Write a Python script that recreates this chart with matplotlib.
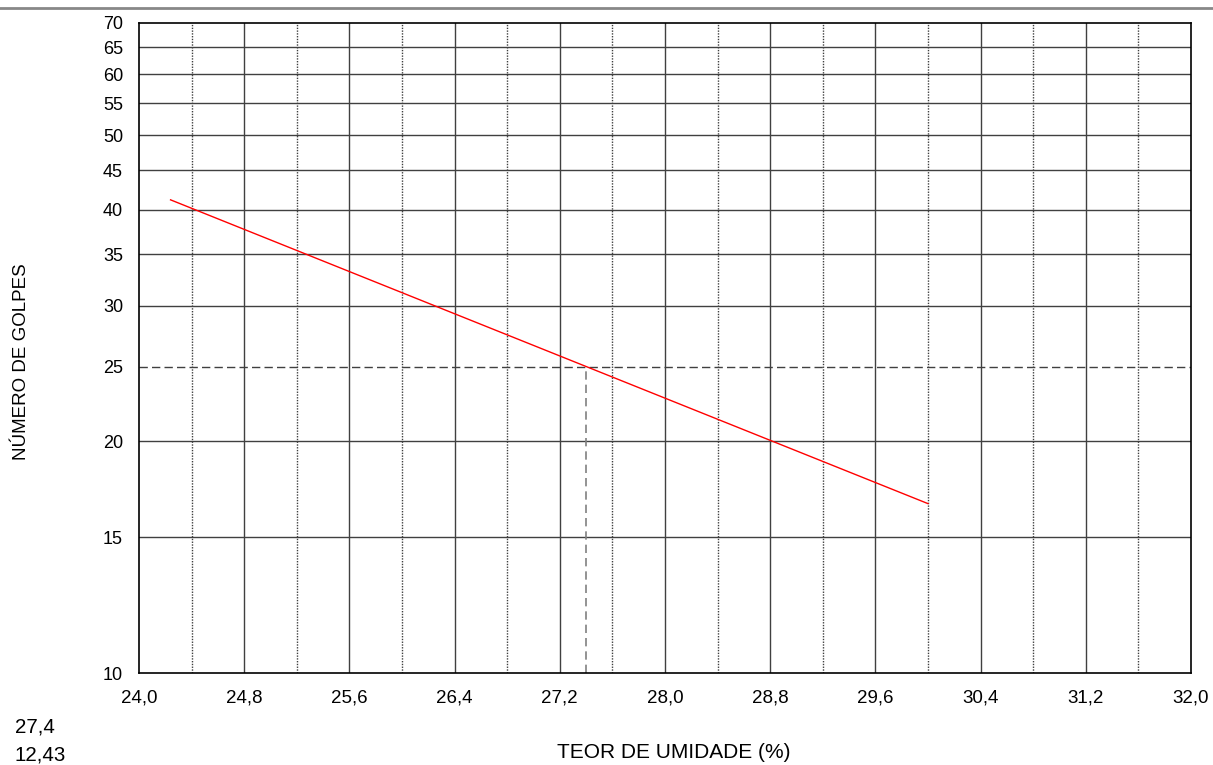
import matplotlib
matplotlib.use("Agg")
import matplotlib.pyplot as plt
from matplotlib.lines import Line2D

plt.rcParams['font.family'] = ['Liberation Sans', 'DejaVu Sans']

# data
line_x = [24.24, 30.0]
line_y = [41.2, 16.6]
ll_x = 27.4
ll_y = 25
y_ticks = [10, 15, 20, 25, 30, 35, 40, 45, 50, 55, 60, 65, 70]
x_major = [24.0, 24.8, 25.6, 26.4, 27.2, 28.0, 28.8, 29.6, 30.4, 31.2, 32.0]
x_minor = [24.4, 25.2, 26.0, 26.8, 27.6, 28.4, 29.2, 30.0, 30.8, 31.6]
side_texts = ["27,4", "12,43"]

W, H = 1213, 765
fig = plt.figure(figsize=(W/100, H/100), dpi=100)
ax = fig.add_axes([139/W, 1-673/H, (1191-139)/W, (673-22.7)/H])
ax.set_yscale('log')
ax.set_xlim(24.0, 32.0)
ax.set_ylim(10, 70)

# grid
for x in x_major[1:-1]:
    ax.axvline(x, color='#404040', lw=1.0, zorder=1)
for x in x_minor:
    ax.axvline(x, color='#404040', lw=1.0, ls=(0, (1, 1)), zorder=1)
for y in y_ticks:
    if y in (10, 25, 70):
        continue
    ax.axhline(y, color='#404040', lw=1.0, zorder=1)

# reference lines
ax.plot([24.0, 32.0], [ll_y, ll_y], color='#404040', lw=1.0, ls=(0, (6, 3)), zorder=2)
ax.plot([ll_x, ll_x], [10, ll_y], color='#808080', lw=1.2, ls=(0, (5, 3)), zorder=2)

ax.plot(line_x, line_y, color='#ff0000', lw=1.0, zorder=3)

ax.set_yticks(y_ticks)
ax.set_yticklabels([str(v) for v in y_ticks])
ax.yaxis.set_minor_locator(matplotlib.ticker.NullLocator())
ax.set_xticks(x_major)
ax.set_xticklabels([f"{v:.1f}".replace('.', ',') for v in x_major])
ax.tick_params(axis='both', length=0, colors='black')
ax.tick_params(axis='x', pad=12, labelsize=13.5)
ax.tick_params(axis='y', pad=11.5, labelsize=13)
for s in ax.spines.values():
    s.set_color('black')
    s.set_linewidth(1.2)

fig.text(21.5/W, 1-362/H, "NÚMERO DE GOLPES", rotation=90, ha='center', va='center', fontsize=13.5)
fig.text(673.5/W, 1-753/H, "TEOR DE UMIDADE (%)", ha='center', va='center', fontsize=15)
fig.text(15/W, 1-727/H, side_texts[0], ha='left', va='center', fontsize=14.8)
fig.text(15/W, 1-755/H, side_texts[1], ha='left', va='center', fontsize=14.8)

fig.add_artist(Line2D([0, 1], [1-8/H, 1-8/H], color='#888888', lw=2, transform=fig.transFigure))

fig.savefig("out.png", dpi=100)
